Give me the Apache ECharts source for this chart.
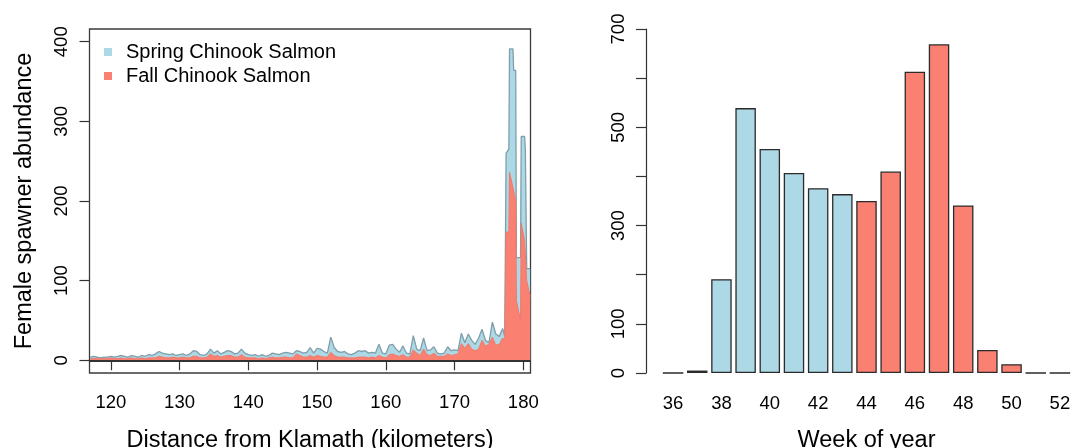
<!DOCTYPE html>
<html>
<head>
<meta charset="utf-8">
<script src="https://cdn.jsdelivr.net/npm/echarts@6/dist/echarts.min.js"></script>
<style>html,body{margin:0;padding:0;background:#fff;}#c{width:1074px;height:448px;}</style>
</head>
<body>
<div id="c"></div>
<script>
// ---- Left panel data: female spawner abundance by distance (km) ----
const distanceKm = [
117.0,117.5,118.0,118.5,119.0,119.5,120.0,120.5,121.0,121.5,
122.0,122.5,123.0,123.5,124.0,124.5,125.0,125.5,126.0,126.5,
127.0,127.5,128.0,128.5,129.0,129.5,130.0,130.5,131.0,131.5,
132.0,132.5,133.0,133.5,134.0,134.5,135.0,135.5,136.0,136.5,
137.0,137.5,138.0,138.5,139.0,139.5,140.0,140.5,141.0,141.5,
142.0,142.5,143.0,143.5,144.0,144.5,145.0,145.5,146.0,146.5,
147.0,147.5,148.0,148.5,149.0,149.5,150.0,150.5,151.0,151.5,
152.0,152.5,153.0,153.5,154.0,154.5,155.0,155.5,156.0,156.5,
157.0,157.5,158.0,158.5,159.0,159.5,160.0,160.5,161.0,161.5,
162.0,162.5,163.0,163.5,164.0,164.5,165.0,165.5,166.0,166.5,
167.0,167.5,168.0,168.5,169.0,169.5,170.0,170.5,171.0,171.5,
172.0,172.5,173.0,173.5,174.0,174.5,175.0,175.5,176.0,176.5,
177.0,177.3,177.5,177.9,178.0,178.5,178.6,178.9,179.0,179.6,
179.7,180.2,180.3,180.5,181.0
];
const springAbundance = [
4,5,4,3,4,4,5,4,5,6,
5,4,6,5,4,6,5,7,6,8,
11,9,8,7,8,6,7,8,6,8,
12,11,7,6,8,14,9,12,8,10,
12,11,8,9,14,9,7,6,7,5,
7,5,6,9,8,7,9,10,9,8,
12,11,9,10,16,9,15,14,11,9,
29,16,11,10,11,8,7,9,12,11,
12,9,10,9,20,9,8,19,20,14,
10,18,9,8,31,14,12,28,12,13,
17,9,8,9,17,12,13,12,34,22,
33,25,20,28,39,25,22,48,33,30,
40,30,260,265,391,391,364,364,129,129,
281,281,265,115,115
];
const fallAbundance = [
2,2,2,2,2,2,3,2,2,3,
2,2,3,2,2,3,2,3,3,3,
5,4,3,3,4,3,3,4,3,3,
5,5,3,3,4,8,5,6,4,5,
6,6,4,4,7,4,3,3,3,2,
3,2,3,4,3,3,4,4,3,3,
8,6,4,4,6,4,6,5,4,4,
10,6,4,4,4,3,3,3,4,4,
4,3,4,3,6,4,3,7,8,6,
5,7,4,4,13,9,6,14,7,6,
9,5,5,5,8,6,7,8,21,15,
21,14,12,14,25,18,20,29,19,20,
28,25,161,161,236,217,217,200,75,50,
172,150,150,100,80
];
const distanceTicks = [120,130,140,150,160,170,180];
const abundanceTicks = [0,100,200,300,400];

// ---- Right panel data: abundance by week of year ----
const weeks = ['36','37','38','39','40','41','42','43','44','45','46','47','48','49','50','51','52'];
const weekValues = [0,5,191,539,456,407,376,364,350,410,613,669,341,47,18,0,0];
const weekRun = ['spring','spring','spring','spring','spring','spring','spring','spring',
                 'fall','fall','fall','fall','fall','fall','fall','fall','fall'];
const weekTicks = [0,100,200,300,400,500,600,700];
const weekTickLabels = [0,100,300,500,700];

const SPRING = '#ADD8E6', FALL = '#FA8072';
const FONT = 'Liberation Sans, Arial, Helvetica, sans-serif';

const springPts = distanceKm.map((d,i)=>[d, springAbundance[i]]);
const fallPts = distanceKm.map((d,i)=>[d, fallAbundance[i]]);

const chart = echarts.init(document.getElementById('c'), null, {renderer:'canvas'});
chart.setOption({
  animation:false,
  textStyle:{fontFamily:FONT, color:'#000'},
  grid:[
    {left:89.5, top:29, width:441, height:344, show:true, borderColor:'#3a3a3a', borderWidth:1.3,
     backgroundColor:'transparent', containLabel:false, outerBoundsMode:'none'},
    {left:661, top:29, width:411, height:344, containLabel:false, outerBoundsMode:'none'}
  ],
  legend:{
    show:true, orient:'vertical', left:99, top:37,
    icon:'rect', itemWidth:8, itemHeight:8, itemGap:4,
    textStyle:{fontSize:20, color:'#000', fontFamily:FONT, padding:[0,0,0,9]},
    data:['Spring Chinook Salmon','Fall Chinook Salmon']
  },
  xAxis:[
    {type:'value', gridIndex:0, min:116.9, max:181.05,
     axisLine:{show:false}, splitLine:{show:false},
     axisTick:{show:true, length:10, lineStyle:{color:'#333', width:1.2}, customValues:distanceTicks},
     axisLabel:{fontSize:18.5, color:'#000', margin:20, customValues:distanceTicks},
     name:'Distance from Klamath (kilometers)', nameLocation:'middle', nameGap:56,
     nameTextStyle:{fontSize:23.5, color:'#000'}},
    {type:'category', gridIndex:1, data:weeks,
     axisLine:{show:false}, axisTick:{show:false}, splitLine:{show:false},
     axisLabel:{fontSize:18.5, color:'#000', margin:21, interval:1},
     name:'Week of year', nameLocation:'middle', nameGap:56,
     nameTextStyle:{fontSize:23.5, color:'#000'}}
  ],
  yAxis:[
    {type:'value', gridIndex:0, min:-16, max:416,
     axisLine:{show:false}, splitLine:{show:false},
     axisTick:{show:true, length:10, lineStyle:{color:'#333', width:1.2}, customValues:abundanceTicks},
     axisLabel:{fontSize:18.5, color:'#000', rotate:90, margin:18, customValues:abundanceTicks},
     name:'Female spawner abundance', nameLocation:'middle', nameRotate:90, nameGap:53,
     nameTextStyle:{fontSize:23.5, color:'#000'}},
    {type:'value', gridIndex:1, min:0, max:700, offset:15,
     axisLine:{show:true, lineStyle:{color:'#333', width:1.2}}, splitLine:{show:false},
     axisTick:{show:true, length:10, lineStyle:{color:'#333', width:1.2}, customValues:weekTicks},
     axisLabel:{fontSize:18.5, color:'#000', rotate:90, margin:18, customValues:weekTickLabels}}
  ],
  series:[
    {name:'Spring Chinook Salmon', type:'line', xAxisIndex:0, yAxisIndex:0, data:springPts,
     showSymbol:false, symbol:'none', smooth:false, z:2,
     itemStyle:{color:SPRING},
     lineStyle:{color:'#7f9fab', width:1.3},
     areaStyle:{color:SPRING, opacity:1, origin:0}},
    {name:'Fall Chinook Salmon', type:'line', xAxisIndex:0, yAxisIndex:0, data:fallPts,
     showSymbol:false, symbol:'none', smooth:false, z:3,
     itemStyle:{color:FALL},
     lineStyle:{color:'#f07a6c', width:1},
     areaStyle:{color:FALL, opacity:1, origin:0},
     markLine:{silent:true, symbol:['none','none'], label:{show:false},
       lineStyle:{color:'#333', width:2, type:'solid'}, data:[{yAxis:0}]}},
    {type:'bar', xAxisIndex:1, yAxisIndex:1, barWidth:20.5,
     data:weekValues.map((v,i)=>({value:v, itemStyle:{color: weekRun[i]==='spring'?SPRING:FALL}})),
     itemStyle:{borderColor:'#2b2b2b', borderWidth:1.3}}
  ]
});
</script>
</body>
</html>
